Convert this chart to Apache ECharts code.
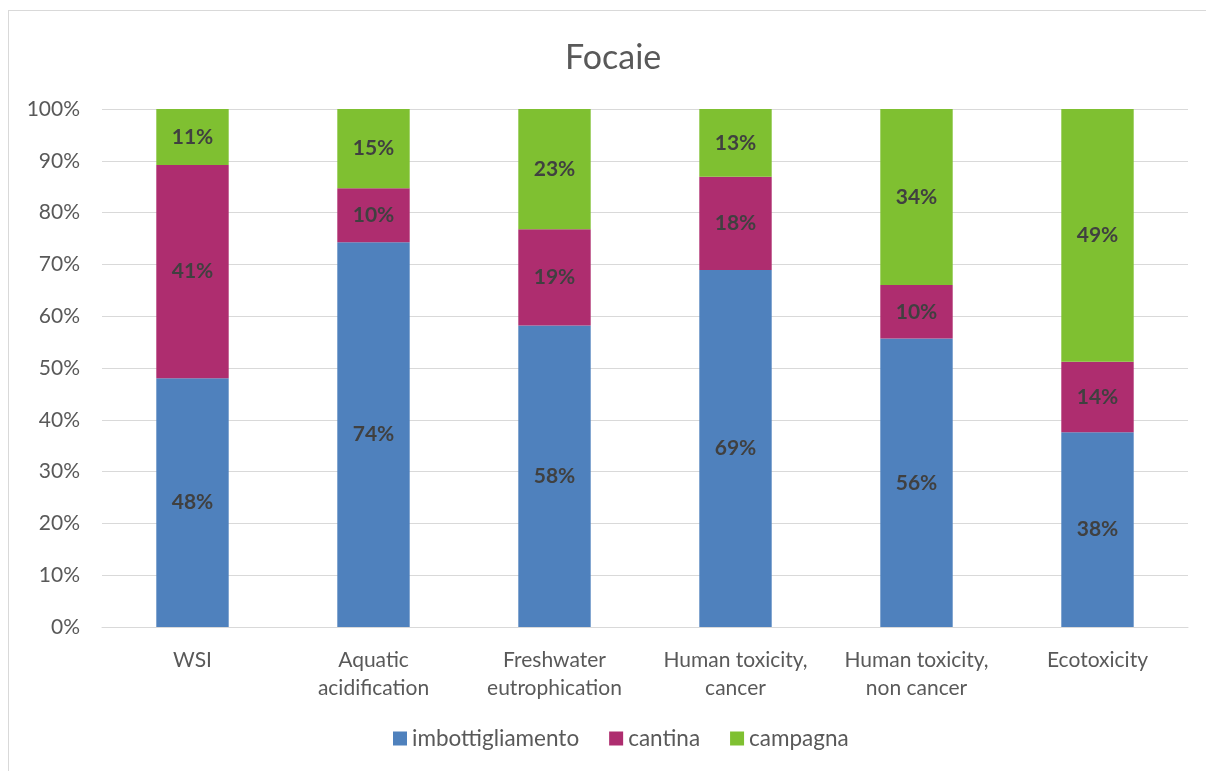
<!DOCTYPE html>
<html>
<head>
<meta charset="utf-8">
<script src="https://cdn.jsdelivr.net/npm/echarts@6/dist/echarts.min.js"></script>
<style>
  html, body { margin: 0; padding: 0; background: #fff; }
  #frame { position: absolute; left: 8px; top: 10px; width: 1210px; height: 770px; border: 1px solid #d9d9d9; box-sizing: border-box; }
  #chart { width: 1206px; height: 771px; position: absolute; left: 0; top: 0; }
</style>
</head>
<body>
<div id="frame"></div>
<div id="chart"></div>
<script>
// Impact categories and the share of each life-cycle stage (percent of total)
const categories = ['WSI', 'Aquatic\nacidification', 'Freshwater\neutrophication', 'Human toxicity,\ncancer', 'Human toxicity,\nnon cancer', 'Ecotoxicity'];
const imbottigliamento = [48.0, 74.3, 58.2, 68.9, 55.7, 37.6];
const cantina = [41.2, 10.4, 18.6, 18.0, 10.3, 13.6];
const campagna = [10.8, 15.3, 23.2, 13.1, 34.0, 48.8];
const yTicks = [0, 10, 20, 30, 40, 50, 60, 70, 80, 90, 100];

const FONT = 'Lato, "Open Sans", sans-serif';

const label = {
  show: true,
  position: 'inside',
  formatter: p => Math.round(p.value) + '%',
  color: '#404040',
  fontWeight: 'bold',
  fontSize: 21,
  fontFamily: FONT
};

function series(name, data, color) {
  return {
    name, type: 'bar', stack: 'total', data,
    barWidth: '40%',
    itemStyle: { color },
    label,
    emphasis: { disabled: true }
  };
}

const chart = echarts.init(document.getElementById('chart'), null, { renderer: 'canvas' });
chart.setOption({
  animation: false,
  title: {
    text: 'Focaie', left: 560, top: 36,
    textStyle: { fontSize: 34, fontWeight: 'normal', color: '#595959', fontFamily: FONT }
  },
  legend: {
    bottom: 16, left: 388, itemWidth: 14, itemHeight: 14, itemGap: 30,
    icon: 'rect',
    textStyle: { fontSize: 22.5, color: '#595959', fontFamily: FONT },
    data: ['imbottigliamento', 'cantina', 'campagna']
  },
  grid: { left: 102, right: 18, top: 109, bottom: 144, containLabel: false },
  xAxis: {
    type: 'category', data: categories,
    axisLine: { lineStyle: { color: '#d9d9d9', width: 1 } },
    axisTick: { show: false },
    axisLabel: { color: '#595959', fontSize: 21, fontFamily: FONT, margin: 19, lineHeight: 28, interval: 0 }
  },
  yAxis: {
    type: 'value', min: 0, max: 100, interval: 10,
    axisLabel: {
      color: '#595959', fontSize: 21, fontFamily: FONT, margin: 22,
      formatter: v => yTicks.includes(v) ? v + '%' : ''
    },
    splitLine: { lineStyle: { color: '#d9d9d9', width: 1 } },
    axisLine: { show: false }, axisTick: { show: false }
  },
  series: [
    series('imbottigliamento', imbottigliamento, '#4f81bd'),
    series('cantina', cantina, '#ae2d6f'),
    series('campagna', campagna, '#7fc031')
  ]
});
</script>
</body>
</html>
